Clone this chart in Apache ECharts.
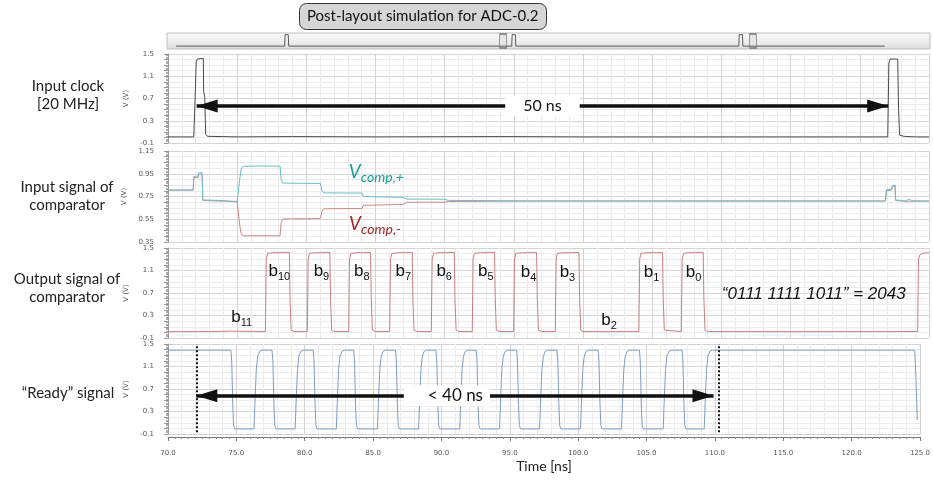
<!DOCTYPE html>
<html>
<head>
<meta charset="utf-8">
<script src="https://cdn.jsdelivr.net/npm/echarts@6/dist/echarts.min.js"></script>
<style>
  html, body { margin: 0; padding: 0; background: #fff; }
  #chart { width: 933px; height: 480px; }
</style>
</head>
<body>
<div id="chart"></div>
<script>
// Time window of the four waveform panels [ns]
const timeWindow = [70, 125];
const timeTickStep = 5;

// Voltage tick labels
const voltTicks = [-0.1, 0.3, 0.7, 1.1, 1.5];
const compInTicks = [0.35, 0.55, 0.75, 0.95, 1.15];

// Waveforms as [time ns, volts]
const clockWave = [
  [70.0,0.01],[71.86,0.01],[71.95,0.62],[72.04,1.36],[72.12,1.41],[72.55,1.42],[72.58,0.82],
  [72.66,0.72],[72.72,0.06],[72.85,0.02],[75.0,0.01],[79.0,0.015],[85.1,0.01],[94.0,0.015],
  [100.0,0.01],[122.02,0.01],[122.1,1.34],[122.2,1.41],[122.74,1.41],[122.8,0.5],[122.88,0.04],
  [123.2,0.02],[124.0,0.01],[125.0,0.01]
];

const vCompPlus = [
  [70.0,0.807],[71.82,0.807],[71.86,0.925],[72.18,0.93],[72.22,0.958],[72.46,0.962],[72.52,0.72],
  [72.6,0.713],[73.6,0.716],[74.2,0.712],[75.0,0.705],[75.08,0.70],[75.18,0.9],[75.3,1.0],
  [75.45,1.015],[76.5,1.018],[78.1,1.017],[78.18,0.9],[78.3,0.868],[79.5,0.866],[81.02,0.865],
  [81.12,0.8],[81.25,0.782],[84.03,0.78],[84.12,0.75],[84.25,0.743],[87.0,0.742],[87.12,0.73],
  [87.25,0.727],[90.0,0.726],[90.12,0.718],[90.25,0.716],[93.0,0.714],[93.1,0.712],[96.0,0.711],
  [110.0,0.711],[121.85,0.711],[121.9,0.70],[121.93,0.81],[122.3,0.815],[122.35,0.845],
  [122.55,0.852],[122.58,0.72],[122.65,0.705],[123.3,0.71],[123.55,0.726],[123.75,0.712],[125.0,0.711]
];

const vCompMinus = [
  [70.0,0.806],[71.82,0.806],[71.86,0.912],[72.18,0.918],[72.22,0.942],[72.46,0.948],[72.52,0.715],
  [72.6,0.709],[74.2,0.708],[75.0,0.703],[75.08,0.69],[75.18,0.5],[75.3,0.415],[75.45,0.405],
  [78.1,0.404],[78.18,0.52],[78.3,0.553],[81.02,0.556],[81.12,0.62],[81.25,0.642],[84.03,0.645],
  [84.12,0.672],[84.25,0.68],[87.0,0.681],[87.12,0.695],[87.25,0.699],[90.0,0.70],[90.12,0.704],
  [90.25,0.706],[93.0,0.708],[93.1,0.709],[96.0,0.71],[121.85,0.71],[121.9,0.70],[121.93,0.80],
  [122.3,0.806],[122.35,0.835],[122.55,0.842],[122.58,0.715],[122.65,0.703],[123.3,0.708],[125.0,0.709]
];

const compOut = [
  [70.0,0.012],[73.0,0.015],[74.5,0.022],[74.6,0.012],[76.0,0.018],[77.04,0.015],
  [77.1,1.3],[77.2,1.405],[77.6,1.415],[78.77,1.42],[78.82,0.6],[78.9,0.04],[79.1,0.015],
  [80.07,0.015],[80.13,1.3],[80.23,1.405],[80.6,1.415],[81.7,1.42],[81.75,0.6],[81.83,0.04],[82.0,0.015],
  [83.06,0.015],[83.12,1.3],[83.22,1.405],[83.6,1.415],[84.64,1.42],[84.69,0.6],[84.77,0.04],[85.0,0.015],
  [86.02,0.015],[86.08,1.3],[86.18,1.405],[86.6,1.415],[87.65,1.42],[87.7,0.6],[87.78,0.04],[88.0,0.015],
  [89.03,0.015],[89.09,1.3],[89.19,1.405],[89.6,1.415],[90.69,1.42],[90.74,0.6],[90.82,0.04],[91.0,0.015],
  [91.99,0.015],[92.05,1.3],[92.15,1.405],[92.6,1.415],[93.6,1.42],[93.65,0.6],[93.73,0.04],[94.0,0.015],
  [94.98,0.015],[95.04,1.3],[95.14,1.405],[95.6,1.415],[96.64,1.42],[96.69,0.6],[96.77,0.04],[97.0,0.015],
  [97.99,0.015],[98.05,1.3],[98.15,1.405],[98.6,1.415],[99.7,1.42],[99.75,0.6],[99.83,0.04],[100.0,0.015],
  [102.0,0.012],[104.03,0.015],[104.09,1.3],[104.19,1.405],[104.6,1.415],[105.74,1.42],[105.79,0.6],
  [105.87,0.04],[106.0,0.015],
  [107.1,0.015],[107.16,1.3],[107.26,1.405],[107.6,1.415],[108.68,1.42],[108.73,0.6],[108.81,0.04],
  [109.0,0.015],[115.0,0.012],[124.18,0.015],[124.24,1.3],[124.34,1.38],[124.6,1.41],[125.0,1.415]
];

const readyWave = [
  [70.0,1.39],[74.6,1.39],[74.66,1.2],[74.74,0.4],[74.8,0.05],[74.88,-0.01],
  [76.29,-0.01],[76.38,0.6],[76.46,1.05],[76.56,1.28],[76.7,1.37],[76.88,1.39],
  [77.61,1.39],[77.67,1.2],[77.75,0.4],[77.81,0.05],[77.9,-0.01],
  [79.3,-0.01],[79.39,0.6],[79.47,1.05],[79.57,1.28],[79.71,1.37],[79.89,1.39],
  [80.62,1.39],[80.68,1.2],[80.76,0.4],[80.82,0.05],[80.91,-0.01],
  [82.31,-0.01],[82.4,0.6],[82.48,1.05],[82.58,1.28],[82.72,1.37],[82.9,1.39],
  [83.58,1.39],[83.64,1.2],[83.72,0.4],[83.78,0.05],[83.87,-0.01],
  [85.32,-0.01],[85.41,0.6],[85.49,1.05],[85.59,1.28],[85.73,1.37],[85.91,1.39],
  [86.64,1.39],[86.7,1.2],[86.78,0.4],[86.84,0.05],[86.93,-0.01],
  [88.33,-0.01],[88.42,0.6],[88.5,1.05],[88.6,1.28],[88.74,1.37],[88.92,1.39],
  [89.6,1.39],[89.66,1.2],[89.74,0.4],[89.8,0.05],[89.89,-0.01],
  [91.34,-0.01],[91.43,0.6],[91.51,1.05],[91.61,1.28],[91.75,1.37],[91.93,1.39],
  [92.54,1.39],[92.6,1.2],[92.68,0.4],[92.74,0.05],[92.83,-0.01],
  [94.25,-0.01],[94.34,0.6],[94.42,1.05],[94.52,1.28],[94.66,1.37],[94.84,1.39],
  [95.5,1.39],[95.56,1.2],[95.64,0.4],[95.7,0.05],[95.79,-0.01],
  [97.18,-0.01],[97.27,0.6],[97.35,1.05],[97.45,1.28],[97.59,1.37],[97.77,1.39],
  [98.45,1.39],[98.51,1.2],[98.59,0.4],[98.65,0.05],[98.74,-0.01],
  [100.17,-0.01],[100.26,0.6],[100.34,1.05],[100.44,1.28],[100.58,1.37],[100.76,1.39],
  [101.46,1.39],[101.52,1.2],[101.6,0.4],[101.66,0.05],[101.75,-0.01],
  [103.17,-0.01],[103.26,0.6],[103.34,1.05],[103.44,1.28],[103.58,1.37],[103.76,1.39],
  [104.48,1.39],[104.54,1.2],[104.62,0.4],[104.68,0.05],[104.77,-0.01],
  [106.22,-0.01],[106.31,0.6],[106.39,1.05],[106.49,1.28],[106.63,1.37],[106.81,1.39],
  [107.6,1.39],[107.66,1.2],[107.74,0.4],[107.8,0.05],[107.89,-0.01],
  [109.22,-0.01],[109.31,0.6],[109.39,1.05],[109.49,1.28],[109.63,1.37],[109.81,1.39],
  [124.62,1.39],[124.7,0.9],[124.8,0.15]
];

// Overview strip: clock over the whole simulation
const overviewRange = [-4, 164];
const overviewClock = [
  [-2,0],[21.9,0],[22.0,1.4],[22.7,1.4],[22.8,0],[71.9,0],[72.0,1.4],[72.7,1.4],[72.8,0],
  [121.9,0],[122.0,1.4],[122.7,1.4],[122.8,0],[154,0]
];

// Annotations
const periodArrow = [72.07, 122.05];
const periodArrowLevel = 0.565;
const periodText = '50 ns';
const convArrow = [72.07, 109.9];
const convArrowLevel = 0.58;
const convText = '< 40 ns';
const convMarkers = [72.07, 110.25];

const bitNames = ['11','10','9','8','7','6','5','4','3','2','1','0'];
const bitLabelTime = [75.32, 78.05, 81.09, 84.0, 87.0, 89.96, 92.97, 96.06, 98.87, 101.87, 104.95, 107.98];
const bitLabelLevel = [0.27, 1.08, 1.08, 1.08, 1.08, 1.08, 1.08, 1.06, 1.06, 0.22, 1.06, 1.06];
const codeText = '\u201C0111 1111 1011\u201D = 2043';
const codePos = [116.67, 0.68];

const vcompPlusPos = [85.06, 0.965];
const vcompMinusPos = [84.96, 0.508];

const rowLabels = [
  { text: 'Input clock\n[20 MHz]', x: 68, y: 95 },
  { text: 'Input signal of\ncomparator', x: 67, y: 196 },
  { text: 'Output signal of\ncomparator', x: 67, y: 288 },
  { text: '\u201CReady\u201D signal', x: 68, y: 393 }
];

const titleText = 'Post-layout simulation for ADC-0.2';

// ---- styling helpers ----
const UI_FONT = 'Lato';
const gridLeft = 168, gridRight = 4;
const panels = [
  { top: 54, height: 89, min: -0.1, max: 1.5, step: 0.1, ticks: voltTicks },
  { top: 151, height: 91, min: 0.35, max: 1.15, step: 0.05, ticks: compInTicks },
  { top: 248, height: 90, min: -0.1, max: 1.5, step: 0.1, ticks: voltTicks },
  { top: 344, height: 90, min: -0.1, max: 1.5, step: 0.1, ticks: voltTicks }
];

const majorGrid = '#d4d4d4', minorGrid = '#ececec';

const grids = panels.map(p => ({ left: gridLeft, right: gridRight, top: p.top, height: p.height }));
grids.push({
  left: 167, right: 3, top: 33, height: 16, show: true,
  backgroundColor: { type: 'linear', x: 0, y: 0, x2: 0, y2: 1,
    colorStops: [{ offset: 0, color: '#fafafa' }, { offset: 0.5, color: '#eeeeee' }, { offset: 1, color: '#dcdcdc' }] },
  borderColor: '#bdbdbd', borderWidth: 1
});

const xAxes = panels.map((p, i) => ({
  type: 'value', gridIndex: i, min: timeWindow[0], max: timeWindow[1], interval: timeTickStep,
  axisLine: { show: false }, axisTick: { show: false }, axisLabel: { show: false },
  splitLine: { show: true, lineStyle: { color: majorGrid, width: 1 } },
  minorTick: { show: false, splitNumber: 5 },
  minorSplitLine: { show: true, lineStyle: { color: minorGrid, width: 1 } }
}));
// time scale with ticks and labels under the last panel
xAxes.push({
  type: 'value', gridIndex: 3, position: 'bottom', offset: 3,
  min: timeWindow[0], max: timeWindow[1], interval: timeTickStep,
  axisLine: { show: true, lineStyle: { color: '#777', width: 1 } },
  axisTick: { show: true, length: 4, lineStyle: { color: '#777' } },
  minorTick: { show: true, splitNumber: 10, length: 2, lineStyle: { color: '#888' } },
  axisLabel: { show: true, fontSize: 7, color: '#555', margin: 13, fontFamily: 'DejaVu Sans',
    formatter: v => v.toFixed(1) },
  splitLine: { show: false },
  name: 'Time [ns]', nameLocation: 'middle', nameGap: 22,
  nameTextStyle: { fontSize: 14, fontFamily: UI_FONT, color: '#222' }
});
xAxes.push({ type: 'value', gridIndex: 4, min: overviewRange[0], max: overviewRange[1], show: false });

const yAxes = panels.map((p, i) => ({
  type: 'value', gridIndex: i, min: p.min, max: p.max, interval: p.step,
  axisLine: { show: true, lineStyle: { color: '#999', width: 1 } },
  axisTick: { show: true, length: 4, lineStyle: { color: '#999' } },
  minorTick: { show: true, splitNumber: 4, length: 2, lineStyle: { color: '#aaa' } },
  axisLabel: {
    fontSize: 7, color: '#555', margin: 14, fontFamily: 'DejaVu Sans',
    formatter: v => {
      const hit = p.ticks.find(t => Math.abs(t - v) < 1e-6);
      return hit === undefined ? '' : String(hit);
    }
  },
  splitLine: { show: true, lineStyle: { color: [majorGrid, minorGrid, minorGrid, minorGrid], width: 1 } },
  name: 'V (V)', nameLocation: 'middle', nameGap: 33,
  nameTextStyle: { fontSize: 7, color: '#555', fontFamily: 'DejaVu Sans' }
}));
yAxes.push({ type: 'value', gridIndex: 4, min: -0.35, max: 1.6, show: false });

const wave = (name, xi, yi, data, color) => ({
  name, type: 'line', xAxisIndex: xi, yAxisIndex: yi, data,
  showSymbol: false, symbol: 'none', animation: false, silent: true,
  lineStyle: { color, width: 1 }
});

// double-headed arrow: shaft as a mark line, heads as rotated triangles whose tips sit on the ends
const HEAD = [13, 21];
const arrowShaft = (x0, x1, level) => ({
  silent: true, animation: false, symbol: ['none', 'none'],
  lineStyle: { color: '#111', width: 3.5, type: 'solid', opacity: 1 },
  label: { show: false },
  data: [[{ coord: [x0, level] }, { coord: [x1, level] }]]
});
const arrowHeads = (xi, yi, x0, x1, level) => ({
  type: 'scatter', xAxisIndex: xi, yAxisIndex: yi, silent: true, animation: false, z: 9,
  symbol: 'triangle', symbolSize: HEAD, itemStyle: { color: '#111', opacity: 1 },
  data: [
    { value: [x0, level], symbolRotate: 90, symbolOffset: [HEAD[1] / 2, 0] },
    { value: [x1, level], symbolRotate: -90, symbolOffset: [-HEAD[1] / 2, 0] }
  ]
});

const textSeries = (xi, yi, items, extra) => Object.assign({
  type: 'scatter', xAxisIndex: xi, yAxisIndex: yi, symbolSize: 1,
  itemStyle: { color: 'transparent', opacity: 1 }, silent: true, animation: false, z: 10,
  data: items
}, extra || {});

const clockSeries = wave('clock', 0, 0, clockWave, '#4a4a4a');
clockSeries.markLine = arrowShaft(periodArrow[0], periodArrow[1], periodArrowLevel);

const readySeries = wave('ready', 3, 3, readyWave, '#7d9dc4');
readySeries.markLine = arrowShaft(convArrow[0], convArrow[1], convArrowLevel);

const periodLabel = textSeries(0, 0, [{
  value: [(periodArrow[0] + periodArrow[1]) / 2, periodArrowLevel],
  label: { show: true, position: 'inside', formatter: periodText, fontSize: 16, fontFamily: UI_FONT,
    color: '#111', backgroundColor: '#fff', padding: [2, 18], opacity: 1 }
}]);

const convLabel = textSeries(3, 3, [{
  value: [(convArrow[0] + convArrow[1]) / 2, convArrowLevel],
  label: { show: true, position: 'inside', formatter: convText, fontSize: 17, fontFamily: UI_FONT,
    color: '#111', backgroundColor: '#fff', padding: [2, 7, 2, 24], offset: [-8, 0], opacity: 1 }
}], {
  markLine: {
    silent: true, animation: false, symbol: ['none', 'none'],
    lineStyle: { color: '#111', width: 2, type: [2, 2], opacity: 1 }, label: { show: false },
    data: convMarkers.map(t => [{ coord: [t, -0.07] }, { coord: [t, 1.5] }])
  }
});

const vcompRich = (color) => ({
  v: { fontSize: 19, fontStyle: 'italic', fontFamily: UI_FONT, color, lineHeight: 24 },
  s: { fontSize: 14, fontStyle: 'italic', fontFamily: UI_FONT, color, lineHeight: 10, verticalAlign: 'bottom' }
});
const vcompLabels = textSeries(1, 1, [
  { value: vcompPlusPos, label: { show: true, position: 'inside', opacity: 1, formatter: '{v|V}{s|comp,+}', rich: vcompRich('#1a9e96') } },
  { value: vcompMinusPos, label: { show: true, position: 'inside', opacity: 1, formatter: '{v|V}{s|comp,-}', rich: vcompRich('#a02a2a') } }
]);

const bitRich = {
  b: { fontSize: 17, fontFamily: 'Liberation Sans', color: '#111', lineHeight: 22 },
  s: { fontSize: 11, fontFamily: 'Liberation Sans', color: '#111', lineHeight: 8, verticalAlign: 'bottom' }
};
const bitLabels = textSeries(2, 2, bitNames.map((n, i) => ({
  value: [bitLabelTime[i], bitLabelLevel[i]],
  label: { show: true, position: 'inside', opacity: 1, formatter: '{b|b}{s|' + n + '}', rich: bitRich }
})).concat([{
  value: codePos,
  label: { show: true, position: 'inside', opacity: 1, formatter: codeText, fontSize: 17, fontStyle: 'italic',
    fontFamily: 'Liberation Sans', color: '#111' }
}]));

const overviewSeries = wave('overview', 5, 4, overviewClock, '#5a5a5a');
const windowHandles = {
  type: 'scatter', xAxisIndex: 5, yAxisIndex: 4, silent: true, animation: false,
  symbol: 'rect', symbolSize: [7, 14],
  itemStyle: { color: '#e6e6e6', borderColor: '#7a7a7a', borderWidth: 1, opacity: 1 },
  data: [[timeWindow[0], 0.62], [timeWindow[1], 0.62]]
};

const chart = echarts.init(document.getElementById('chart'), null, { renderer: 'canvas' });
chart.setOption({
  animation: false,
  backgroundColor: '#fff',
  title: {
    text: titleText, left: 299, top: 3,
    backgroundColor: '#d6d6d6', borderColor: '#333', borderWidth: 1, borderRadius: 7,
    padding: [6, 8],
    textStyle: { fontSize: 15, fontFamily: UI_FONT, fontWeight: 'normal', color: '#111' }
  },
  grid: grids,
  xAxis: xAxes,
  yAxis: yAxes,
  graphic: rowLabels.map(r => ({
    type: 'text', x: r.x, y: r.y, silent: true,
    style: { text: r.text, align: 'center', verticalAlign: 'middle', fontSize: 15,
      fontFamily: UI_FONT, fill: '#222', lineHeight: 18 }
  })),
  series: [
    clockSeries,
    wave('V comp -', 1, 1, vCompMinus, '#c98b8b'),
    wave('V comp +', 1, 1, vCompPlus, '#6cc0c6'),
    wave('comparator out', 2, 2, compOut, '#c97f7f'),
    readySeries,
    arrowHeads(0, 0, periodArrow[0], periodArrow[1], periodArrowLevel),
    arrowHeads(3, 3, convArrow[0], convArrow[1], convArrowLevel),
    periodLabel, convLabel, vcompLabels, bitLabels,
    overviewSeries, windowHandles
  ]
});
</script>
</body>
</html>
